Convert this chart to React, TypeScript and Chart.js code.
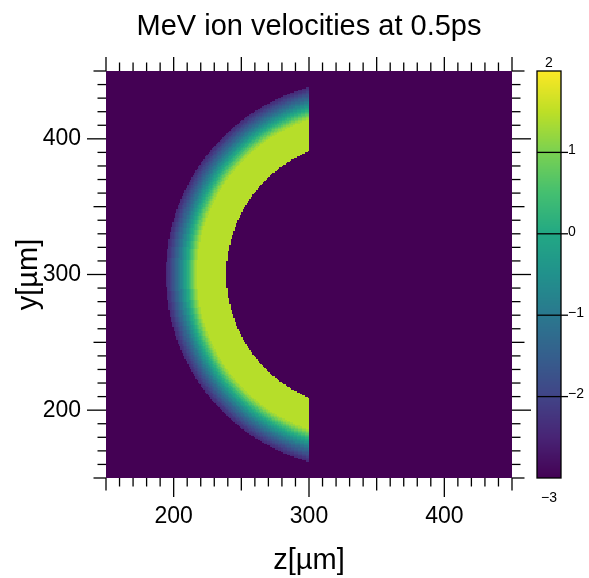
import React, { useEffect, useRef } from 'react';
import { Chart, registerables } from 'chart.js';

Chart.register(...registerables);

const FONT = "'Liberation Sans', Arial, Helvetica, sans-serif";

// Simulation window (µm) and cell size of the field
const Z_LIMITS = [150, 450];
const Y_LIMITS = [150, 450];
const CELL_SIZE = 1;

// Axis tick layout (µm)
const AXIS_LABELS = [200, 300, 400];
const AXIS_SEMI_MAJOR_STEP = 50;
const AXIS_MINOR_STEP = 10;

// Expanding ion shell: centre, cut plane and radial velocity profile
const SHELL_CENTER_Z = 337;
const SHELL_CENTER_Y = 300;
const SHELL_CUT_Z = 300;
const SHELL_INNER_RADIUS = 98;
const SHELL_OUTER_RADII = [
  120, 121, 122, 123, 124, 125, 126, 127, 128, 129, 130, 131,
  132, 133, 134, 135, 136, 137, 138, 139, 140, 141, 142, 142.8,
];
const SHELL_VALUES = [
  1.45, 1.3, 1.15, 0.95, 0.75, 0.55, 0.35, 0.15, 0.0, -0.2, -0.4, -0.6,
  -0.75, -0.95, -1.1, -1.3, -1.45, -1.6, -1.75, -1.9, -2.05, -2.2, -2.3, -2.4,
];
const BACKGROUND_VALUE = -3;

// Colour bar
const CBAR_MIN = -3;
const CBAR_MAX = 2;
const CBAR_TICKS = [2, 1, 0, -1, -2, -3];

// Viridis anchor colours, evenly spaced from 0 to 1
const VIRIDIS = [
  '#440154', '#482475', '#414487', '#355f8d', '#2a788e', '#21918c',
  '#22a884', '#44bf70', '#7ad151', '#bddf26', '#fde725',
];

const viridisRgb = VIRIDIS.map((h) => [
  parseInt(h.slice(1, 3), 16),
  parseInt(h.slice(3, 5), 16),
  parseInt(h.slice(5, 7), 16),
]);

const colorCache = new Map<number, string>();
function colorFor(value: number): string {
  const cached = colorCache.get(value);
  if (cached) return cached;
  let t = (value - CBAR_MIN) / (CBAR_MAX - CBAR_MIN);
  t = Math.max(0, Math.min(1, t));
  const pos = t * (viridisRgb.length - 1);
  const i = Math.min(Math.floor(pos), viridisRgb.length - 2);
  const f = pos - i;
  const a = viridisRgb[i];
  const b = viridisRgb[i + 1];
  const c = a.map((v, k) => Math.round(v + (b[k] - v) * f));
  const s = `rgb(${c[0]},${c[1]},${c[2]})`;
  colorCache.set(value, s);
  return s;
}

function cellValue(z: number, y: number): number {
  if (z >= SHELL_CUT_Z) return BACKGROUND_VALUE;
  const r = Math.hypot(z - SHELL_CENTER_Z, y - SHELL_CENTER_Y);
  if (r < SHELL_INNER_RADIUS) return BACKGROUND_VALUE;
  for (let k = 0; k < SHELL_OUTER_RADII.length; k++) {
    if (r < SHELL_OUTER_RADII[k]) return SHELL_VALUES[k];
  }
  return BACKGROUND_VALUE;
}

const fmt = (v: number) => (v < 0 ? '\u2212' + Math.abs(v) : String(v));

const heatmapPlugin = {
  id: 'shellHeatmap',
  beforeDatasetsDraw(chart: any) {
    const { ctx, chartArea: a, scales } = chart;
    const xs = scales.x;
    const ys = scales.y;
    ctx.save();
    ctx.beginPath();
    ctx.rect(a.left, a.top, a.right - a.left, a.bottom - a.top);
    ctx.clip();
    for (let z = Z_LIMITS[0]; z < Z_LIMITS[1]; z += CELL_SIZE) {
      const x0 = Math.round(xs.getPixelForValue(z));
      const x1 = Math.round(xs.getPixelForValue(z + CELL_SIZE));
      for (let y = Y_LIMITS[0]; y < Y_LIMITS[1]; y += CELL_SIZE) {
        const y0 = Math.round(ys.getPixelForValue(y + CELL_SIZE));
        const y1 = Math.round(ys.getPixelForValue(y));
        ctx.fillStyle = colorFor(cellValue(z + CELL_SIZE / 2, y + CELL_SIZE / 2));
        ctx.fillRect(x0, y0, x1 - x0, y1 - y0);
      }
    }
    ctx.restore();
  },
};

// Tick lengths: bottom/left/right distinguish labelled, every-50 and minor ticks
function tickLength(v: number) {
  if (AXIS_LABELS.includes(v)) return 19;
  if (v % AXIS_SEMI_MAJOR_STEP === 0) return 12.5;
  return 8.5;
}
function topTickLength(v: number) {
  return v % AXIS_SEMI_MAJOR_STEP === 0 ? 14 : 8.5;
}

const frameTicksPlugin = {
  id: 'frameTicks',
  afterDraw(chart: any) {
    const { ctx, chartArea: a, scales } = chart;
    ctx.save();
    ctx.strokeStyle = '#000';
    ctx.lineWidth = 1.3;
    const line = (x0: number, y0: number, x1: number, y1: number) => {
      ctx.beginPath();
      ctx.moveTo(x0, y0);
      ctx.lineTo(x1, y1);
      ctx.stroke();
    };
    for (let v = Z_LIMITS[0]; v <= Z_LIMITS[1]; v += AXIS_MINOR_STEP) {
      const px = scales.x.getPixelForValue(v);
      line(px, a.bottom, px, a.bottom + tickLength(v));
      line(px, a.top, px, a.top - topTickLength(v));
    }
    for (let v = Y_LIMITS[0]; v <= Y_LIMITS[1]; v += AXIS_MINOR_STEP) {
      const py = scales.y.getPixelForValue(v);
      const l = tickLength(v);
      line(a.left, py, a.left - l, py);
      line(a.right, py, a.right + l, py);
    }
    ctx.restore();
  },
};

const colorbarPlugin = {
  id: 'colorbar',
  afterDraw(chart: any) {
    const { ctx, chartArea: a, scales } = chart;
    const cb = scales.cb;
    const left = a.right + 25;
    const width = 24;
    const top = cb.getPixelForValue(CBAR_MAX);
    const bottom = cb.getPixelForValue(CBAR_MIN);
    ctx.save();
    for (let py = Math.floor(top); py < Math.ceil(bottom); py++) {
      const v = cb.getValueForPixel(py + 0.5);
      ctx.fillStyle = colorFor(Math.round(v * 1000) / 1000);
      ctx.fillRect(left, py, width, 1);
    }
    ctx.strokeStyle = '#000';
    ctx.lineWidth = 1.3;
    ctx.strokeRect(left, top, width, bottom - top);
    ctx.fillStyle = '#000';
    ctx.font = `14px ${FONT}`;
    for (const v of CBAR_TICKS) {
      const py = cb.getPixelForValue(v);
      if (v === CBAR_MAX) {
        ctx.textAlign = 'center';
        ctx.textBaseline = 'bottom';
        ctx.fillText(fmt(v), left + width / 2, py - 1);
      } else if (v === CBAR_MIN) {
        ctx.textAlign = 'center';
        ctx.textBaseline = 'top';
        ctx.fillText(fmt(v), left + width / 2, py + 13);
      } else {
        ctx.beginPath();
        ctx.moveTo(left, py);
        ctx.lineTo(left + width + 7, py);
        ctx.stroke();
        ctx.textAlign = 'left';
        ctx.textBaseline = 'middle';
        ctx.fillText(fmt(v), left + width + 7, py - 2);
      }
    }
    ctx.restore();
  },
};

const TITLE_SIZE = 29;
const TITLE_PAD_TOP = 10;
const TITLE_BOX = TITLE_SIZE * 1.2 + TITLE_PAD_TOP;

const hiddenAxis = (position: string, limits: number[], size: number) => ({
  type: 'linear',
  position,
  min: limits[0],
  max: limits[1],
  grid: { display: false, drawTicks: false },
  border: { display: false },
  ticks: { display: false },
  afterFit: (s: any) => {
    if (position === 'top' || position === 'bottom') s.height = size;
    else s.width = size;
  },
});

export default function App() {
  const canvasRef = useRef<HTMLCanvasElement | null>(null);

  useEffect(() => {
    const canvas = canvasRef.current;
    if (!canvas) return;
    const chart = new Chart(canvas, {
      type: 'scatter',
      data: { datasets: [] },
      options: {
        animation: false,
        responsive: false,
        devicePixelRatio: 1,
        layout: { padding: 0 },
        plugins: {
          legend: { display: false },
          tooltip: { enabled: false },
          title: {
            display: true,
            fullSize: false,
            text: 'MeV ion velocities at 0.5ps',
            color: '#000',
            font: { family: FONT, size: TITLE_SIZE, weight: 'normal', lineHeight: 1.2 },
            padding: { top: TITLE_PAD_TOP, bottom: 0 },
          },
        },
        scales: {
          x: {
            type: 'linear',
            position: 'bottom',
            min: Z_LIMITS[0],
            max: Z_LIMITS[1],
            grid: { display: false, drawTicks: false },
            border: { display: false },
            afterBuildTicks: (s: any) => {
              s.ticks = AXIS_LABELS.map((v) => ({ value: v }));
            },
            ticks: {
              color: '#000',
              padding: 25,
              maxRotation: 0,
              autoSkip: false,
              font: { family: FONT, size: 23, lineHeight: 1.2 },
            },
            title: {
              display: true,
              text: 'z[\u00b5m]',
              color: '#000',
              font: { family: FONT, size: 29, lineHeight: 1.2 },
              padding: { top: 0, bottom: 0 },
            },
            afterFit: (s: any) => {
              s.height = 100;
            },
          },
          y: {
            type: 'linear',
            position: 'left',
            min: Y_LIMITS[0],
            max: Y_LIMITS[1],
            grid: { display: false, drawTicks: false },
            border: { display: false },
            afterBuildTicks: (s: any) => {
              s.ticks = AXIS_LABELS.map((v) => ({ value: v }));
            },
            ticks: {
              color: '#000',
              padding: 25,
              autoSkip: false,
              font: { family: FONT, size: 23, lineHeight: 1.2 },
            },
            title: {
              display: true,
              text: 'y[\u00b5m]',
              color: '#000',
              font: { family: FONT, size: 29, lineHeight: 1.2 },
              padding: { top: 12, bottom: 0 },
            },
            afterFit: (s: any) => {
              s.width = 106;
            },
          },
          x2: hiddenAxis('top', Z_LIMITS, 71 - TITLE_BOX),
          y2: hiddenAxis('right', Y_LIMITS, 77),
          cb: {
            type: 'linear',
            position: 'right',
            min: CBAR_MIN,
            max: CBAR_MAX,
            display: false,
          },
        },
      } as any,
      plugins: [heatmapPlugin, frameTicksPlugin, colorbarPlugin],
    });
    return () => chart.destroy();
  }, []);

  return (
    <div
      style={{
        position: 'fixed',
        left: 0,
        top: 0,
        width: 589,
        height: 578,
        background: '#fff',
      }}
    >
      <canvas ref={canvasRef} width={589} height={578} style={{ display: 'block' }} />
    </div>
  );
}
